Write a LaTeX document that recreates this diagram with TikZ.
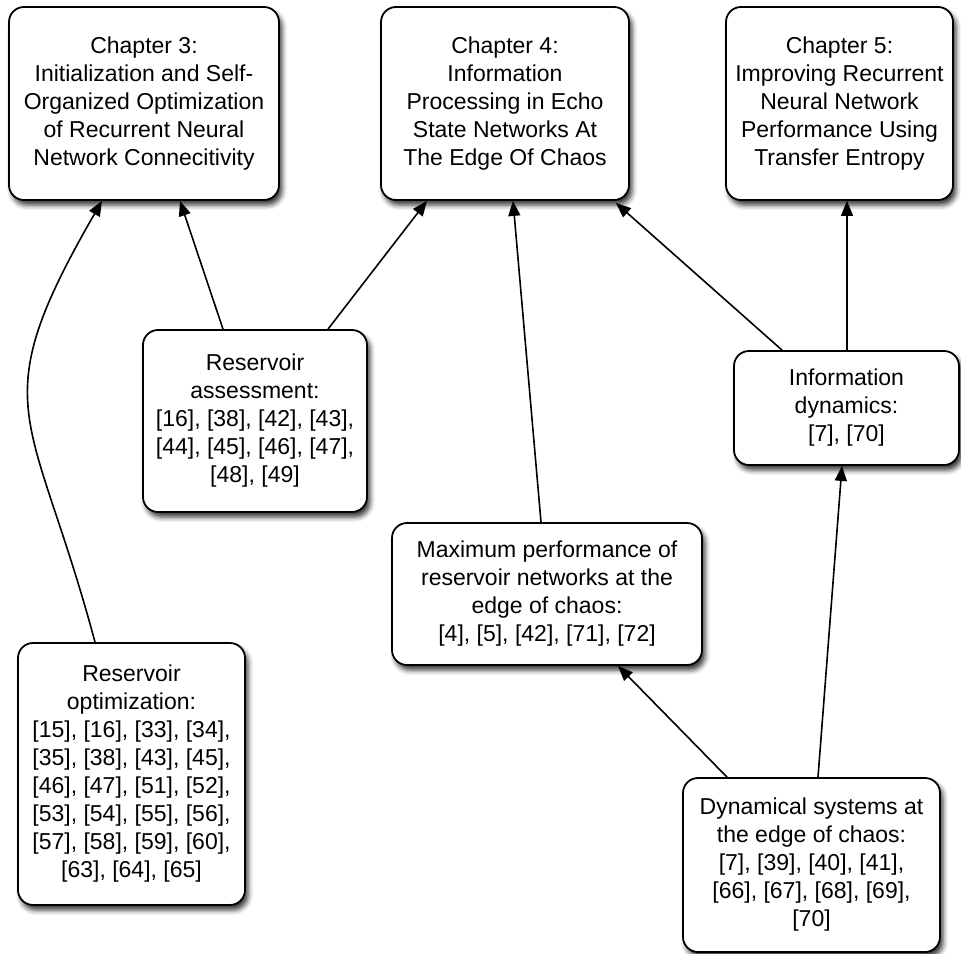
\documentclass[tikz,border=0pt]{standalone}
\usepackage{fontspec}
\setmainfont{Liberation Sans}
\usetikzlibrary{arrows.meta,shadows.blur}

\begin{document}
\begin{tikzpicture}[x=1pt,y=1pt,
  card/.style={draw=black, line width=1.8pt, fill=white, rounded corners=15pt,
    align=center, inner sep=0pt,
    font=\fontsize{23}{28}\selectfont,
    blur shadow={shadow xshift=3pt, shadow yshift=-5pt,
      shadow blur radius=5pt, shadow opacity=80}},
  link/.style={line width=1.6pt, -{Triangle[length=15pt,width=12pt]}}
]
\useasboundingbox (0,0) rectangle (961,-953);

% chapter boxes along the top
\node[card, minimum width=270pt, minimum height=193pt] (ch3) at (144,-103.5)
  {Chapter 3:\\Initialization and Self-\\Organized Optimization\\of Recurrent Neural\\Network Connecitivity};
\node[card, minimum width=248pt, minimum height=193pt] (ch4) at (505,-103.5)
  {Chapter 4:\\Information\\Processing in Echo\\State Networks At\\The Edge Of Chaos};
\node[card, minimum width=227pt, minimum height=193pt] (ch5) at (839.5,-103.5)
  {Chapter 5:\\Improving Recurrent\\Neural Network\\Performance Using\\Transfer Entropy};

% topic boxes
\node[card, minimum width=224pt, minimum height=182pt] (ra) at (255,-421)
  {Reservoir\\assessment:\\{[16], [38], [42], [43],}\\{[44], [45], [46], [47],}\\{[48], [49]}};
\node[card, minimum width=225pt, minimum height=114pt] (idy) at (846.5,-408)
  {Information\\dynamics:\\{[7], [70]}};
\node[card, minimum width=310pt, minimum height=142pt] (mp) at (547,-594)
  {Maximum performance of\\reservoir networks at the\\edge of chaos:\\{[4], [5], [42], [71], [72]}};
\node[card, minimum width=227pt, minimum height=262pt] (ro) at (131.5,-774)
  {Reservoir\\optimization:\\{[15], [16], [33], [34],}\\{[35], [38], [43], [45],}\\{[46], [47], [51], [52],}\\{[53], [54], [55], [56],}\\{[57], [58], [59], [60],}\\{[63], [64], [65]}};
\node[card, minimum width=257pt, minimum height=174pt] (ds) at (811.5,-865)
  {Dynamical systems at\\the edge of chaos:\\{[7], [39], [40], [41],}\\{[66], [67], [68], [69],}\\{[70]}};

% dependencies
\draw[link] ([xshift=-36.5pt]ro.north) to[out=105,in=240,looseness=1.4] ([xshift=-42pt]ch3.south);
\draw[link] ([xshift=-32pt]ra.north) -- ([xshift=36pt]ch3.south);
\draw[link] ([xshift=73pt]ra.north) -- ([xshift=-78pt]ch4.south);
\draw[link] ([xshift=-6pt]mp.north) -- ([xshift=8pt]ch4.south);
\draw[link] ([xshift=-64.5pt]idy.north) -- ([xshift=-14pt,yshift=-2pt]ch4.south east);
\draw[link] ([xshift=0.5pt]idy.north) -- ([xshift=7.5pt]ch5.south);
\draw[link] ([xshift=6.5pt]ds.north) -- ([xshift=-4.5pt]idy.south);
\draw[link] ([xshift=-84.5pt]ds.north) -- ([xshift=71pt]mp.south);
\end{tikzpicture}
\end{document}
